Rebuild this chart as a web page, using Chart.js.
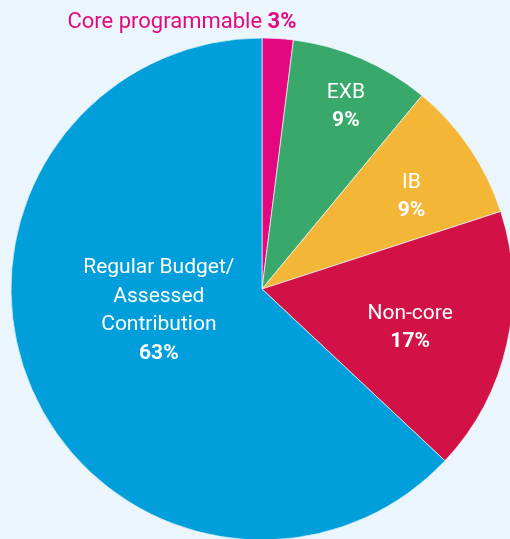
<!DOCTYPE html>
<html>
<head>
<meta charset="utf-8">
<script src="https://cdn.jsdelivr.net/npm/chart.js@4"></script>
<style>
  html, body { margin: 0; padding: 0; background: #ebf6fc; overflow: hidden; }
  #chart { display: block; }
</style>
</head>
<body>
<canvas id="chart" width="510" height="539"></canvas>
<script>
// clockwise from 12 o'clock
const categories = ['Core programmable', 'EXB', 'IB', 'Non-core', 'Regular Budget/\nAssessed\nContribution'];
const shares = [2, 9, 9, 17, 63];
const shareLabels = ['3%', '9%', '9%', '17%', '63%'];
const colors = ['#e5077f', '#39a96b', '#f3b637', '#d21246', '#009edb'];

// where each label sits: fraction of radius, angle nudge in degrees
const labelSpots = [null, { r: 0.80, da: 1.3 }, { r: 0.70, da: 2.5 }, { r: 0.61, da: 2 }, { r: 0.42, da: 11.5 }];
const FONT = 'Roboto, "Noto Sans", sans-serif';

const sliceLabels = {
  id: 'sliceLabels',
  afterDatasetsDraw(chart) {
    const ctx = chart.ctx;
    const arcs = chart.getDatasetMeta(0).data;
    ctx.save();
    ctx.textBaseline = 'middle';
    arcs.forEach((arc, i) => {
      const { x, y, startAngle, endAngle, outerRadius } = arc.getProps(['x', 'y', 'startAngle', 'endAngle', 'outerRadius'], true);
      if (i === 0) {
        // small slice: label sits outside, above the pie
        const ex = x + Math.cos(endAngle) * outerRadius + 3;
        const ty = y - outerRadius - 16;
        ctx.font = 'bold 22px ' + FONT;
        const pw = ctx.measureText(shareLabels[i]).width;
        ctx.fillStyle = colors[0];
        ctx.textAlign = 'right';
        ctx.fillText(shareLabels[i], ex, ty);
        ctx.font = '22px ' + FONT;
        ctx.fillText(categories[i] + ' ', ex - pw, ty);
        return;
      }
      const spot = labelSpots[i];
      const mid = (startAngle + endAngle) / 2 + spot.da * Math.PI / 180;
      const cx = x + Math.cos(mid) * outerRadius * spot.r;
      const cy = y + Math.sin(mid) * outerRadius * spot.r;
      const lines = categories[i].split('\n');
      const lh = 28.5;
      const total = lines.length + 1;
      let ly = cy - (total - 1) * lh / 2;
      ctx.fillStyle = '#ffffff';
      ctx.textAlign = 'center';
      ctx.font = '21px ' + FONT;
      lines.forEach(l => {
        ctx.fillText(l, cx, ly);
        ly += lh;
      });
      ctx.font = 'bold 21px ' + FONT;
      ctx.fillText(shareLabels[i], cx, ly);
    });
    ctx.restore();
  }
};

const ctx = document.getElementById('chart').getContext('2d');
const chart = new Chart(ctx, {
  type: 'pie',
  data: {
    labels: categories,
    datasets: [{
      data: shares,
      backgroundColor: colors,
      borderColor: 'rgba(235,246,252,0.7)',
      borderWidth: 1,
      radius: 251
    }]
  },
  options: {
    responsive: false,
    animation: false,
    layout: { padding: { left: 14, right: 0, top: 39, bottom: 0 } },
    plugins: {
      legend: { display: false },
      tooltip: { enabled: false }
    }
  },
  plugins: [sliceLabels]
});
</script>
</body>
</html>
